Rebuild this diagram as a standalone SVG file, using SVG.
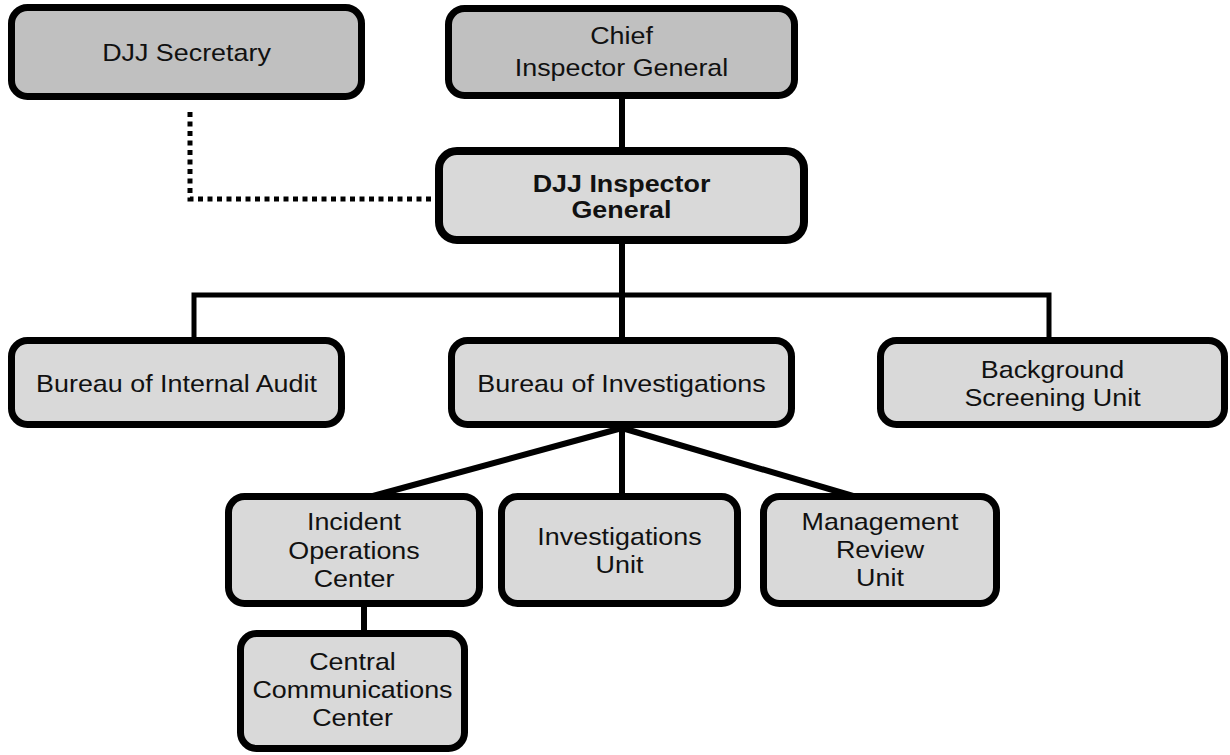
<svg xmlns="http://www.w3.org/2000/svg" width="1230" height="755" viewBox="0 0 1230 755">
<style>
.box{fill:#d9d9d9;stroke:#000;stroke-width:7}
.dark{fill:#c0c0c0}
.ig{stroke-width:8}
.t{font-family:"Liberation Sans",Arial,sans-serif;font-size:24px;fill:#111;text-anchor:middle}
.b{font-weight:bold}
.ln{fill:none;stroke:#000;stroke-width:6}
.bar{stroke-width:5}
.dot{fill:none;stroke:#000;stroke-width:5;stroke-dasharray:5 4.5}
</style>
<rect width="1230" height="755" fill="#fff"/>
<g id="connectors">
<path class="ln" d="M622 99 V151"/>
<path class="ln" d="M622 244 V340"/>
<path class="ln bar" d="M194 340 V295 H1049 V340"/>
<path class="dot" d="M190 112 V199 H435"/>
<path class="ln" d="M622 428 L373 496"/>
<path class="ln" d="M622 428 V496"/>
<path class="ln" d="M622 428 L853 496"/>
<path class="ln" d="M364 607 V633"/>
</g>
<g id="djj-secretary">
<rect class="box dark" x="11.5" y="7.5" width="350" height="89" rx="16"/>
<text class="t" transform="translate(186.5 0) scale(1.12 1)" x="0" y="61">DJJ Secretary</text>
</g>
<g id="chief-inspector-general">
<rect class="box dark" x="448.5" y="8.5" width="346" height="87" rx="16"/>
<text class="t" transform="translate(621.5 0) scale(1.12 1)"><tspan x="0" y="44">Chief</tspan><tspan x="0" y="76">Inspector General</tspan></text>
</g>
<g id="djj-inspector-general">
<rect class="box ig" x="439" y="151" width="365" height="89" rx="18"/>
<text class="t b" transform="translate(621.5 0) scale(1.12 1)"><tspan x="0" y="192">DJJ Inspector</tspan><tspan x="0" y="218">General</tspan></text>
</g>
<g id="bureau-internal-audit">
<rect class="box" x="11.5" y="340.5" width="330" height="84" rx="16"/>
<text class="t" transform="translate(176.5 0) scale(1.12 1)" x="0" y="392">Bureau of Internal Audit</text>
</g>
<g id="bureau-investigations">
<rect class="box" x="451.5" y="340.5" width="340" height="84" rx="16"/>
<text class="t" transform="translate(621.5 0) scale(1.12 1)" x="0" y="392">Bureau of Investigations</text>
</g>
<g id="background-screening-unit">
<rect class="box" x="880.5" y="340.5" width="344" height="84" rx="16"/>
<text class="t" transform="translate(1052.5 0) scale(1.12 1)"><tspan x="0" y="378">Background</tspan><tspan x="0" y="406">Screening Unit</tspan></text>
</g>
<g id="incident-operations-center">
<rect class="box" x="228.5" y="496.5" width="251" height="107" rx="16"/>
<text class="t" transform="translate(354 0) scale(1.12 1)"><tspan x="0" y="530">Incident</tspan><tspan x="0" y="559">Operations</tspan><tspan x="0" y="587">Center</tspan></text>
</g>
<g id="investigations-unit">
<rect class="box" x="501.5" y="496.5" width="236" height="107" rx="16"/>
<text class="t" transform="translate(619.5 0) scale(1.12 1)"><tspan x="0" y="545">Investigations</tspan><tspan x="0" y="573">Unit</tspan></text>
</g>
<g id="management-review-unit">
<rect class="box" x="763.5" y="496.5" width="233" height="107" rx="16"/>
<text class="t" transform="translate(880 0) scale(1.12 1)"><tspan x="0" y="530">Management</tspan><tspan x="0" y="558">Review</tspan><tspan x="0" y="586">Unit</tspan></text>
</g>
<g id="central-communications-center">
<rect class="box" x="240.5" y="633.5" width="224" height="115" rx="16"/>
<text class="t" transform="translate(352.5 0) scale(1.12 1)"><tspan x="0" y="670">Central</tspan><tspan x="0" y="698">Communications</tspan><tspan x="0" y="726">Center</tspan></text>
</g>
</svg>
